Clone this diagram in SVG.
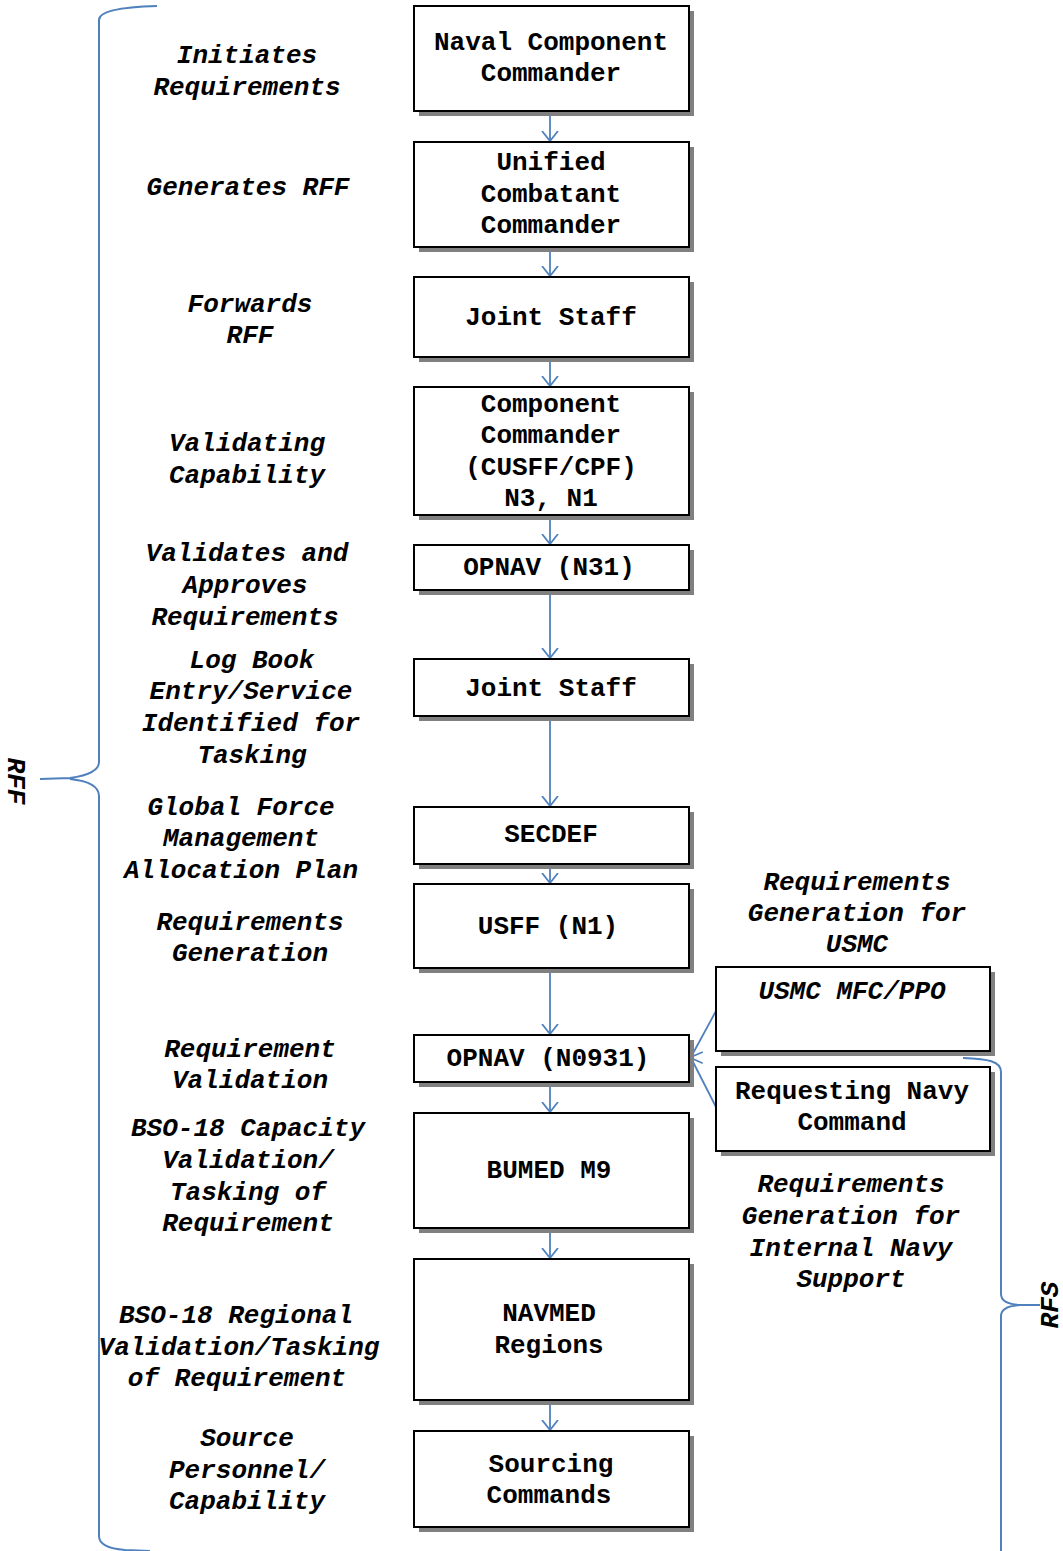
<svg xmlns="http://www.w3.org/2000/svg" width="1063" height="1551" viewBox="0 0 1063 1551">
<style>
.box{fill:#fff;stroke:#000;stroke-width:2}
.sh{fill:#808080}
.t{font-family:"Courier New","Nimbus Mono PS","FreeMono","Liberation Mono",monospace;font-weight:bold;font-size:26px;fill:#000;text-anchor:middle}
.i{font-style:italic}
.c{fill:none;stroke:#4f81bd;stroke-width:1.8}
.br{fill:none;stroke:#4f81bd;stroke-width:2}
</style>
<defs>
<marker id="ah" viewBox="0 0 11 18" refX="10.5" refY="9" markerWidth="11" markerHeight="18" markerUnits="userSpaceOnUse" orient="auto">
<path d="M0.5,1 L10.5,9 L0.5,17" fill="none" stroke="#4f81bd" stroke-width="1.8"/>
</marker>
</defs>
<g id="braces">
<path class="br" d="M157,6 C120,7 99,11 99,20 L99,762 Q99,774 70,778 L40,779 M70,779 Q99,782 99,796 L99,1536 Q99,1548 125,1550 L150,1551"/>
<path class="br" d="M963,1058 C988,1059 1001,1061 1001,1072 L1001,1294 Q1001,1304 1020,1305 L1040,1305 M1020,1305 Q1001,1306 1001,1316 L1001,1551"/>
<text class="t i" transform="translate(8,781) rotate(90)" font-size="22" text-anchor="middle">RFF</text>
<text class="t i" transform="translate(1058,1305) rotate(-90)" font-size="22" text-anchor="middle">RFS</text>
</g>
<g id="connectors">
<line class="c" x1="550" y1="111" x2="550" y2="141" marker-end="url(#ah)"/>
<line class="c" x1="550" y1="247" x2="550" y2="276" marker-end="url(#ah)"/>
<line class="c" x1="550" y1="357" x2="550" y2="386" marker-end="url(#ah)"/>
<line class="c" x1="550" y1="515" x2="550" y2="544" marker-end="url(#ah)"/>
<line class="c" x1="550" y1="590" x2="550" y2="658" marker-end="url(#ah)"/>
<line class="c" x1="550" y1="716" x2="550" y2="806" marker-end="url(#ah)"/>
<line class="c" x1="550" y1="864" x2="550" y2="883" marker-end="url(#ah)"/>
<line class="c" x1="550" y1="968" x2="550" y2="1034" marker-end="url(#ah)"/>
<line class="c" x1="550" y1="1082" x2="550" y2="1112" marker-end="url(#ah)"/>
<line class="c" x1="550" y1="1228" x2="550" y2="1258" marker-end="url(#ah)"/>
<line class="c" x1="550" y1="1400" x2="550" y2="1430" marker-end="url(#ah)"/>
<line class="c" x1="716" y1="1011" x2="691" y2="1057" marker-end="url(#ah)"/>
<line class="c" x1="716" y1="1107" x2="691" y2="1058" marker-end="url(#ah)"/>
</g>
<g id="labels-left" class="t i">
<text x="247" y="63">Initiates</text><text x="247" y="95">Requirements</text>
<text x="248" y="195">Generates RFF</text>
<text x="250" y="312">Forwards</text><text x="250" y="343">RFF</text>
<text x="247" y="451">Validating</text><text x="247" y="483">Capability</text>
<text x="247" y="561">Validates and</text><text x="245" y="593">Approves</text><text x="245" y="625">Requirements</text>
<text x="252" y="668">Log Book</text><text x="251" y="699">Entry/Service</text><text x="251" y="731">Identified for</text><text x="252" y="763">Tasking</text>
<text x="241" y="815">Global Force</text><text x="241" y="846">Management</text><text x="241" y="878">Allocation Plan</text>
<text x="250" y="930">Requirements</text><text x="250" y="961">Generation</text>
<text x="250" y="1057">Requirement</text><text x="250" y="1088">Validation</text>
<text x="248" y="1136">BSO-18 Capacity</text><text x="248" y="1168">Validation/</text><text x="248" y="1200">Tasking of</text><text x="248" y="1231">Requirement</text>
<text x="236" y="1323">BSO-18 Regional</text><text x="239" y="1355">Validation/Tasking</text><text x="237" y="1386">of Requirement</text>
<text x="247" y="1446">Source</text><text x="247" y="1478">Personnel/</text><text x="247" y="1509">Capability</text>
</g>
<g id="labels-right" class="t i">
<text x="857" y="890">Requirements</text><text x="857" y="921">Generation for</text><text x="857" y="952">USMC</text>
<text x="851" y="1192">Requirements</text><text x="851" y="1224">Generation for</text><text x="851" y="1256">Internal Navy</text><text x="851" y="1287">Support</text>
</g>
<g id="n1"><rect class="sh" x="419" y="11" width="275" height="105"/><rect class="box" x="414" y="6" width="275" height="105"/><text class="t" x="551" y="50">Naval Component</text><text class="t" x="551" y="81">Commander</text></g>
<g id="n2"><rect class="sh" x="419" y="147" width="275" height="105"/><rect class="box" x="414" y="142" width="275" height="105"/><text class="t" x="551" y="170">Unified</text><text class="t" x="551" y="202">Combatant</text><text class="t" x="551" y="233">Commander</text></g>
<g id="n3"><rect class="sh" x="419" y="282" width="275" height="80"/><rect class="box" x="414" y="277" width="275" height="80"/><text class="t" x="551" y="325">Joint Staff</text></g>
<g id="n4"><rect class="sh" x="419" y="392" width="275" height="128"/><rect class="box" x="414" y="387" width="275" height="128"/><text class="t" x="551" y="412">Component</text><text class="t" x="551" y="443">Commander</text><text class="t" x="551" y="475">(CUSFF/CPF)</text><text class="t" x="551" y="506">N3, N1</text></g>
<g id="n5"><rect class="sh" x="419" y="550" width="275" height="45"/><rect class="box" x="414" y="545" width="275" height="45"/><text class="t" x="549" y="575">OPNAV (N31)</text></g>
<g id="n6"><rect class="sh" x="419" y="664" width="275" height="57"/><rect class="box" x="414" y="659" width="275" height="57"/><text class="t" x="551" y="696">Joint Staff</text></g>
<g id="n7"><rect class="sh" x="419" y="812" width="275" height="57"/><rect class="box" x="414" y="807" width="275" height="57"/><text class="t" x="551" y="842">SECDEF</text></g>
<g id="n8"><rect class="sh" x="419" y="889" width="275" height="84"/><rect class="box" x="414" y="884" width="275" height="84"/><text class="t" x="548" y="934">USFF (N1)</text></g>
<g id="n9"><rect class="sh" x="419" y="1040" width="275" height="47"/><rect class="box" x="414" y="1035" width="275" height="47"/><text class="t" x="548" y="1066">OPNAV (N0931)</text></g>
<g id="n10"><rect class="sh" x="419" y="1118" width="275" height="115"/><rect class="box" x="414" y="1113" width="275" height="115"/><text class="t" x="549" y="1178">BUMED M9</text></g>
<g id="n11"><rect class="sh" x="419" y="1264" width="275" height="141"/><rect class="box" x="414" y="1259" width="275" height="141"/><text class="t" x="549" y="1321">NAVMED</text><text class="t" x="549" y="1353">Regions</text></g>
<g id="n12"><rect class="sh" x="419" y="1436" width="275" height="96"/><rect class="box" x="414" y="1431" width="275" height="96"/><text class="t" x="551" y="1472">Sourcing</text><text class="t" x="549" y="1503">Commands</text></g>
<g id="n13"><rect class="sh" x="721" y="972" width="274" height="84"/><rect class="box" x="716" y="967" width="274" height="84"/><text class="t i" x="852" y="999">USMC MFC/PPO</text></g>
<g id="n14"><rect class="sh" x="721" y="1072" width="274" height="84"/><rect class="box" x="716" y="1067" width="274" height="84"/><text class="t" x="852" y="1099">Requesting Navy</text><text class="t" x="852" y="1130">Command</text></g>
</svg>
